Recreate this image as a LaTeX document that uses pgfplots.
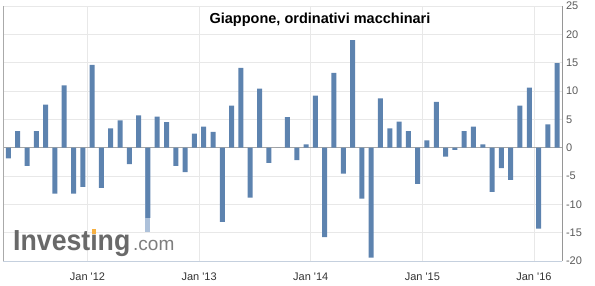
\documentclass[border=0pt]{standalone}
\usepackage{graphicx}
\usepackage{pgfplots}
\pgfplotsset{compat=1.18}
\usepackage{fontspec}
\setmainfont{Liberation Sans}[Ligatures=TeXOff]
\definecolor{barblue}{RGB}{93,131,175}
\definecolor{barlight}{RGB}{173,193,218}
\definecolor{gridc}{RGB}{232,232,232}
\definecolor{logogray}{RGB}{105,105,105}
\definecolor{logolight}{RGB}{125,125,125}
\definecolor{logoorange}{RGB}{246,176,66}
\definecolor{ylab}{RGB}{90,90,90}
\definecolor{xlab}{RGB}{51,51,51}

\pgfplotstableread{
x y
0 -1.9
1 2.9
2 -3.2
3 2.9
4 7.6
5 -8.1
6 11.0
7 -8.1
8 -6.9
9 14.6
10 -7.1
11 3.4
12 4.8
13 -2.9
14 5.7
15 -12.4
16 5.5
17 4.5
18 -3.2
19 -4.3
20 2.5
21 3.7
22 2.8
23 -13.1
24 7.4
25 14.1
26 -8.8
27 10.4
28 -2.7
29 0
30 5.4
31 -2.2
32 0.6
33 9.2
34 -15.8
35 13.2
36 -4.6
37 19.0
38 -9.0
39 -19.4
40 8.7
41 3.4
42 4.6
43 2.9
44 -6.4
45 1.3
46 8.1
47 -1.6
48 -0.4
49 2.9
50 3.7
51 0.6
52 -7.8
53 -3.6
54 -5.7
55 7.4
56 10.6
57 -14.3
58 4.1
59 14.9
}\datatable

\begin{document}
\begin{tikzpicture}
\useasboundingbox (0,0) rectangle (595pt,285pt);
\begin{axis}[
  at={(3.3pt,24pt)}, anchor=south west,
  scale only axis, width=559pt, height=255pt,
  xmin=-0.55, xmax=59.55, ymin=-20, ymax=25,
  axis line style={draw=none},
  xtick={8.5,20.5,32.5,44.5,56.5},
  xticklabels={Jan '12,Jan '13,Jan '14,Jan '15,Jan '16},
  ytick={-20,-15,...,25},
  yticklabels={-20,-15,-10,-5,0,5,10,15,20,25},
  yticklabel pos=right,
  major tick length=0pt,
  grid=major, grid style={gridc, line width=0.8pt},
  tick label style={font=\fontsize{11}{13}\selectfont},
  yticklabel style={anchor=west, inner sep=0pt, xshift=3.5pt, text=ylab},
  xticklabel style={anchor=base, inner sep=0pt, yshift=-19.7pt, text=xlab},
  clip=false,
]
\draw[color={rgb,255:red,165;green,165;blue,165}, line width=0.9pt] (axis cs:-0.55,0) -- (axis cs:59.55,0);
\addplot[ybar, bar width=5pt, bar shift=0pt, fill=barlight, draw=none] coordinates {(15,-14.8)};
\addplot[ybar, bar width=5pt, bar shift=0pt, fill=barblue, draw=none] table[x=x,y=y] {\datatable};
\draw[color={rgb,255:red,170;green,170;blue,170}, line width=0.8pt] (rel axis cs:0,0) -- (rel axis cs:0,1);
\draw[color={rgb,255:red,197;green,208;blue,222}, line width=0.9pt] (rel axis cs:0,0) -- (rel axis cs:1,0);
\draw[color={rgb,255:red,150;green,150;blue,150}, line width=1pt] (rel axis cs:1,0) -- (rel axis cs:1,1);
\end{axis}
\node[anchor=base, inner sep=0pt] at (320pt,262pt) {\fontsize{14.5}{16}\selectfont\bfseries Giappone, ordinativi macchinari};
\node[anchor=base west, inner sep=0pt, text=logogray] at (13pt,35pt) {\scalebox{0.92}[1]{\fontsize{29}{29}\selectfont\bfseries Invest\makebox[0pt][l]{\hspace{1.5pt}\raisebox{16pt}{\textcolor{logoorange}{\rule{4.5pt}{5pt}}}}ıng}};
\node[anchor=base west, inner sep=0pt, text=logolight] at (133pt,35pt) {\fontsize{19}{19}\selectfont .com};
\end{tikzpicture}
\end{document}
